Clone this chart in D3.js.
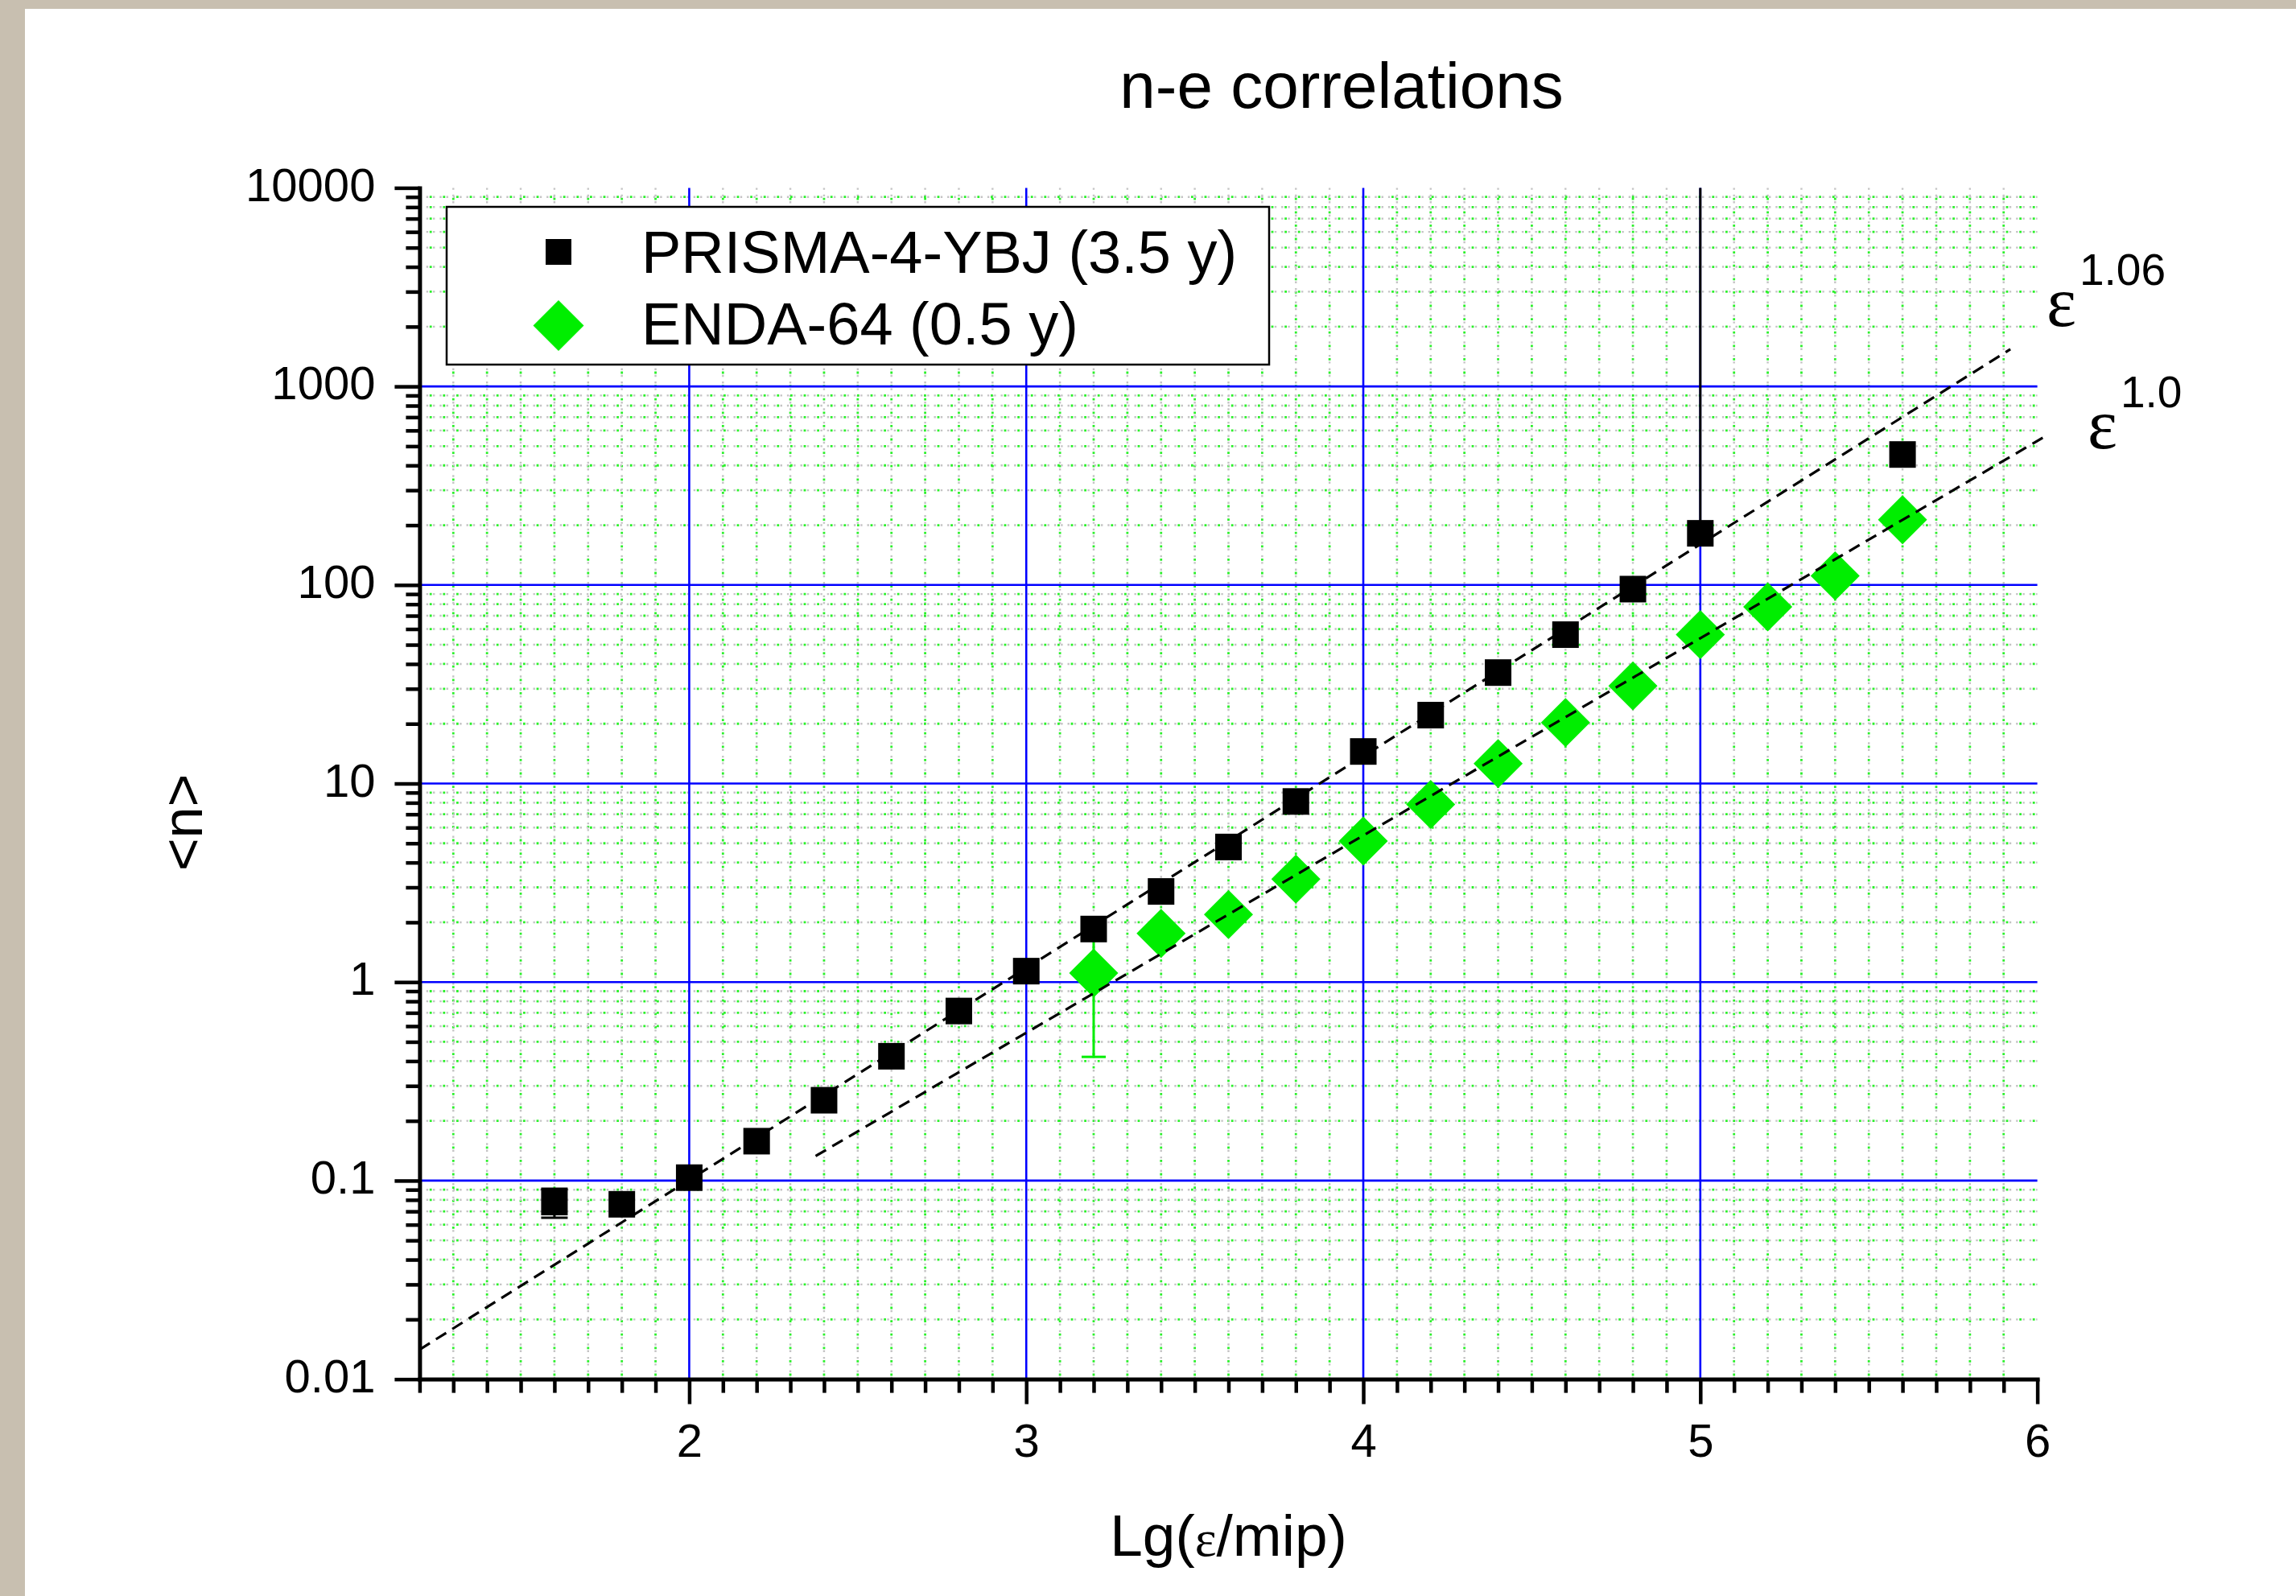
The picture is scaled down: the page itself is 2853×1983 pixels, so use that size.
<!DOCTYPE html>
<html>
<head>
<meta charset="utf-8">
<script src="https://cdn.jsdelivr.net/npm/d3@7"></script>
<style>
  body { margin: 0; background: #c8bfb0; }
  svg { display: block; font-family: "Liberation Sans", Arial, sans-serif; }
</style>
</head>
<body>
<div id="chart"></div>
<script>
// --------------------------------------
//  Data
// --------------------------------------

const prismaX = [1.6, 1.8, 2.0, 2.2, 2.4, 2.6, 2.8, 3.0, 3.2, 3.4, 3.6, 3.8, 4.0, 4.2, 4.4, 4.6, 4.8, 5.0, 5.6];
const prismaN = [0.078, 0.076, 0.1035, 0.158, 0.254, 0.423, 0.715, 1.135, 1.85, 2.86, 4.79, 8.12, 14.5, 22.1, 36.2, 56.2, 95.3, 182, 454];
const prismaErr = [0.013, 0, 0, 0, 0, 0, 0, 0, 0, 0, 0, 0, 0, 0, 0, 0, 0, 12000, 0];

const endaX = [3.2, 3.4, 3.6, 3.8, 4.0, 4.2, 4.4, 4.6, 4.8, 5.0, 5.2, 5.4, 5.6];
const endaN = [1.11, 1.76, 2.19, 3.30, 5.13, 7.85, 12.6, 20.3, 31.0, 56.2, 77.6, 111, 213];
const endaErr = [0.69, 0, 0, 0, 0, 0, 0, 0, 0, 0, 0, 0, 0];

// dashed power-law guides (end points)
const fitPower = ["1.06", "1.0"];
const fitX = [[1.2, 5.92], [2.375, 6.016]];
const fitN = [[0.0141, 1540], [0.133, 551]];

const xMajor = [2, 3, 4, 5, 6];
const yMajor = [0.01, 0.1, 1, 10, 100, 1000, 10000];
const yLabels = ["0.01", "0.1", "1", "10", "100", "1000", "10000"];

const seriesNames = ["PRISMA-4-YBJ (3.5 y)", "ENDA-64 (0.5 y)"];

// --------------------------------------
//  Canvas
// --------------------------------------

const width = 2853;
const height = 1983;
const plot = {left: 521.4, right: 2531.6, top: 233.4, bottom: 1713.6};

const svg = d3.select("#chart")
  .append("svg")
    .attr("width", width)
    .attr("height", height)
    .attr("viewBox", `0, 0, ${width}, ${height}`);

svg.append("rect")
    .attr("width", width).attr("height", height)
    .attr("fill", "#c8bfb0");

svg.append("rect")
    .attr("x", 31).attr("y", 11)
    .attr("width", width - 31).attr("height", height - 11)
    .attr("fill", "#ffffff");

// --------------------------------------
//  Scales
// --------------------------------------

const x = d3.scaleLinear()
    .domain([1.2, 6])
    .range([plot.left, plot.right]);

const y = d3.scaleLog()
    .domain([0.01, 10000])
    .range([plot.bottom, plot.top]);

const xMinor = d3.range(12, 61).map(d => d / 10).filter(d => !xMajor.includes(d));
const yMinor = [];
for (let e = -2; e < 4; e++) {
  for (let m = 2; m <= 9; m++) yMinor.push(m * Math.pow(10, e));
}

// --------------------------------------
//  Grid
// --------------------------------------

const grid = svg.append("g");

function dotted(sel) {
  sel.clone()
      .attr("stroke", "#c4c4c4")
      .attr("stroke-width", 2.4)
      .attr("stroke-dasharray", "2.4 5.9");
  sel.raise()
      .attr("stroke", "#2cf02c")
      .attr("stroke-width", 2.8)
      .attr("stroke-dasharray", "2.8 13.8")
      .attr("stroke-dashoffset", 4.2);
}

grid.append("g").selectAll("line")
  .data(xMinor)
  .join("line")
    .attr("x1", d => x(d)).attr("x2", d => x(d))
    .attr("y1", plot.top).attr("y2", plot.bottom)
    .each(function() { dotted(d3.select(this)); });

grid.append("g").selectAll("line")
  .data(yMinor)
  .join("line")
    .attr("x1", plot.left).attr("x2", plot.right)
    .attr("y1", d => y(d)).attr("y2", d => y(d))
    .each(function() { dotted(d3.select(this)); });

grid.append("g").selectAll("line")
  .data(xMajor.slice(0, -1))
  .join("line")
    .attr("x1", d => x(d)).attr("x2", d => x(d))
    .attr("y1", plot.top).attr("y2", plot.bottom)
    .attr("stroke", "#0000ff")
    .attr("stroke-width", 2.6);

grid.append("g").selectAll("line")
  .data(yMajor.slice(1, -1))
  .join("line")
    .attr("x1", plot.left).attr("x2", plot.right)
    .attr("y1", d => y(d)).attr("y2", d => y(d))
    .attr("stroke", "#0000ff")
    .attr("stroke-width", 2.6);

// --------------------------------------
//  Data drawing
// --------------------------------------

svg.append("clipPath")
    .attr("id", "clip")
  .append("rect")
    .attr("x", plot.left).attr("y", plot.top)
    .attr("width", plot.right - plot.left)
    .attr("height", plot.bottom - plot.top);

const inner = svg.append("g").attr("clip-path", "url(#clip)");

const prisma = prismaX.map((d, i) => ({x: d, n: prismaN[i], err: prismaErr[i]}));
const enda = endaX.map((d, i) => ({x: d, n: endaN[i], err: endaErr[i]}));

function errorBars(g, data, color, cap) {
  const eb = g.append("g")
      .attr("stroke", color)
      .attr("stroke-width", 3)
      .attr("fill", "none");
  data.filter(d => d.err > 0).forEach(d => {
    const cx = x(d.x);
    const hi = y(d.n + d.err);
    const lo = d.n - d.err > 0 ? y(d.n - d.err) : y(d.n);
    eb.append("line").attr("x1", cx).attr("x2", cx).attr("y1", hi).attr("y2", lo);
    eb.append("line").attr("x1", cx - cap / 2).attr("x2", cx + cap / 2).attr("y1", hi).attr("y2", hi);
    if (d.n - d.err > 0) {
      eb.append("line").attr("x1", cx - cap / 2).attr("x2", cx + cap / 2).attr("y1", lo).attr("y2", lo);
    }
  });
}

const diamond = r => `M0,${-r}L${r},0L0,${r}L${-r},0Z`;

//ENDA diamonds
errorBars(inner, enda, "#00ee00", 30);

inner.append("g")
  .selectAll("path")
  .data(enda)
  .join("path")
    .attr("transform", d => `translate(${x(d.x)}, ${y(d.n)})`)
    .attr("d", diamond(30.5))
    .attr("fill", "#00ee00");

//PRISMA squares
errorBars(inner, prisma, "#000000", 33);

inner.append("g")
  .selectAll("rect")
  .data(prisma)
  .join("rect")
    .attr("x", d => x(d.x) - 16.5)
    .attr("y", d => y(d.n) - 16.5)
    .attr("width", 33)
    .attr("height", 33)
    .attr("fill", "#000000");

//Fit lines
const fits = fitPower.map((p, i) => fitX[i].map((v, j) => [v, fitN[i][j]]));

svg.append("g")
  .selectAll("path")
  .data(fits)
  .join("path")
    .attr("d", d3.line().x(d => x(d[0])).y(d => y(d[1])))
    .attr("fill", "none")
    .attr("stroke", "#000000")
    .attr("stroke-width", 3.2)
    .attr("stroke-dasharray", "15 9");

// --------------------------------------
//  Axes
// --------------------------------------

function styleAxis(g) {
  g.select(".domain").attr("stroke-width", 5).attr("stroke-linecap", "square");
  g.selectAll(".tick line").attr("stroke-width", 4.5);
  g.selectAll("text")
      .attr("font-family", "Liberation Sans, Arial, sans-serif")
      .attr("font-size", 58)
      .attr("fill", "#000");
}

svg.append("g")
    .attr("transform", `translate(0, ${plot.bottom})`)
    .call(d3.axisBottom(x).tickValues(xMinor).tickSize(17).tickSizeOuter(0).tickFormat(""))
    .call(styleAxis);

svg.append("g")
    .attr("transform", `translate(0, ${plot.bottom})`)
    .call(d3.axisBottom(x).tickValues(xMajor).tickSize(31).tickSizeOuter(0).tickPadding(24).tickFormat(d3.format("d")))
    .call(styleAxis)
    .call(g => g.select(".domain").remove());

svg.append("g")
    .attr("transform", `translate(${plot.left}, 0)`)
    .call(d3.axisLeft(y).tickValues(yMinor).tickSize(17).tickSizeOuter(0).tickFormat(""))
    .call(styleAxis);

svg.append("g")
    .attr("transform", `translate(${plot.left}, 0)`)
    .call(d3.axisLeft(y).tickValues(yMajor).tickSize(31).tickSizeOuter(0).tickPadding(24)
        .tickFormat((d, i) => yLabels[i]))
    .call(styleAxis)
    .call(g => g.select(".domain").remove())
    .call(g => g.selectAll("text").attr("dy", "0.27em"));

// --------------------------------------
//  Texts
// --------------------------------------

svg.append("text")
    .attr("x", 1667)
    .attr("y", 134)
    .attr("text-anchor", "middle")
    .attr("font-size", 80)
    .text("n-e correlations");

const xLabel = svg.append("text")
    .attr("x", (plot.left + plot.right) / 2)
    .attr("y", 1933)
    .attr("text-anchor", "middle")
    .attr("font-size", 73);
xLabel.append("tspan").text("Lg(");
xLabel.append("tspan").attr("font-family", "Liberation Serif, serif").attr("font-size", 64).text("ε");
xLabel.append("tspan").text("/mip)");

svg.append("text")
    .attr("transform", "translate(251, 1022) rotate(-90)")
    .attr("text-anchor", "middle")
    .attr("font-size", 70)
    .text("<n>");

// power labels next to the fit line ends
const fitLabelPos = [[2543, 405], [2594, 557]];
fitPower.forEach((p, i) => {
  const t = svg.append("text")
      .attr("x", fitLabelPos[i][0])
      .attr("y", fitLabelPos[i][1]);
  t.append("tspan")
      .attr("font-family", "Liberation Serif, serif")
      .attr("font-size", 88)
      .text("ε");
  t.append("tspan")
      .attr("dx", 4)
      .attr("dy", -51)
      .attr("font-size", 55)
      .text(p);
});

// --------------------------------------
//  Legend
// --------------------------------------

const legend = svg.append("g");

legend.append("rect")
    .attr("x", 555).attr("y", 257)
    .attr("width", 1022).attr("height", 196)
    .attr("fill", "#ffffff")
    .attr("stroke", "#000000")
    .attr("stroke-width", 2.5);

legend.append("rect")
    .attr("x", 694 - 16).attr("y", 313 - 16)
    .attr("width", 32).attr("height", 32)
    .attr("fill", "#000000");

legend.append("path")
    .attr("transform", "translate(694, 404.5)")
    .attr("d", diamond(31.5))
    .attr("fill", "#00ee00");

legend.selectAll("text")
  .data(seriesNames)
  .join("text")
    .attr("x", 797)
    .attr("y", (d, i) => 339 + i * 89)
    .attr("font-size", 74)
    .text(d => d);
</script>
</body>
</html>
